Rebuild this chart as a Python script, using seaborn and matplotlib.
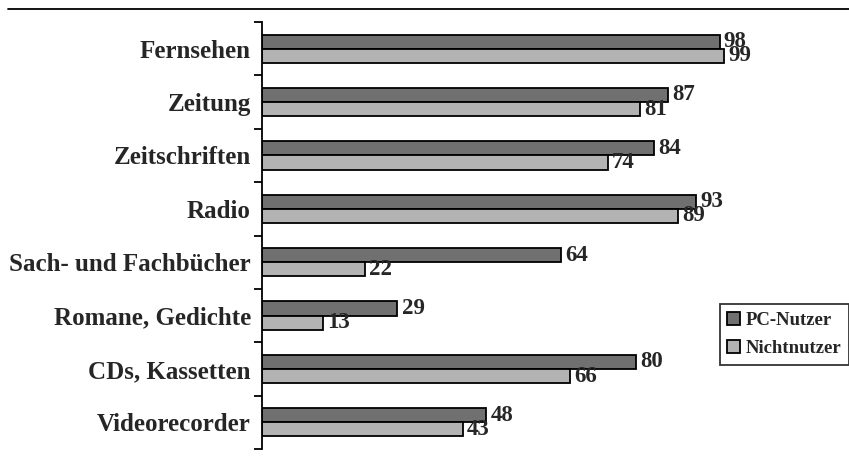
import matplotlib
matplotlib.use("Agg")
import matplotlib.pyplot as plt
import seaborn as sns
import pandas as pd
import numpy as np
from matplotlib.lines import Line2D

categories = ["Fernsehen", "Zeitung", "Zeitschriften", "Radio",
              "Sach- und Fachbücher", "Romane, Gedichte", "CDs, Kassetten", "Videorecorder"]
pc_nutzer = [98, 87, 84, 93, 64, 29, 80, 48]
nichtnutzer = [99, 81, 74, 89, 22, 13, 66, 43]
series = ["PC-Nutzer", "Nichtnutzer"]

df = pd.DataFrame({
    "Kategorie": categories * 2,
    "Wert": pc_nutzer + nichtnutzer,
    "Gruppe": [series[0]] * len(categories) + [series[1]] * len(categories),
})

sns.set_theme(style="white")
plt.rcParams['font.family'] = ['Liberation Serif', 'DejaVu Serif']
plt.rcParams['font.weight'] = 'bold'

fig = plt.figure(figsize=(8.49, 4.58), dpi=100)
ax = fig.add_axes([262 / 849, 1 - 449 / 458, 1 - 262 / 849, (449 - 22) / 458])

palette = {series[0]: "#707070", series[1]: "#b3b3b3"}
sns.barplot(data=df, y="Kategorie", x="Wert", hue="Gruppe", order=categories,
            hue_order=series, palette=palette, orient="h", width=0.53,
            edgecolor="black", linewidth=1.3, saturation=1, ax=ax, legend=True)

ax.set_xlim(0, 125.7)
ax.set_ylim(len(categories) - 0.5, -0.5)
ax.set_xlabel("")
ax.set_ylabel("")
ax.set_xticks([])
for s in ["top", "right", "bottom"]:
    ax.spines[s].set_visible(False)
ax.spines["left"].set_color("black")
ax.spines["left"].set_linewidth(1.3)

ax.set_yticks(range(len(categories)))
ax.set_yticklabels(categories, fontsize=18, fontweight="bold")
ax.tick_params(axis="y", which="major", length=0, pad=8)
ax.set_yticks(np.arange(-0.5, len(categories), 1.0), minor=True)
ax.tick_params(axis="y", which="minor", left=True, length=6, width=1.3, color="black")

for cont in ax.containers:
    ax.bar_label(cont, fmt="%d", padding=3, fontsize=16.5, fontweight="bold")

leg = ax.legend(loc="upper right", bbox_to_anchor=(1.0, 1 - 304 / 458),
                bbox_transform=fig.transFigure, fontsize=13.5, frameon=True,
                fancybox=False, handlelength=0.7, handleheight=0.7,
                handletextpad=0.3, borderpad=0.4, labelspacing=0.6,
                borderaxespad=0)
leg.get_frame().set_edgecolor("black")
leg.get_frame().set_linewidth(1.3)
for t in leg.get_texts():
    t.set_fontweight("bold")

fig.add_artist(Line2D([8 / 849, 1.0], [1 - 9 / 458, 1 - 9 / 458],
                      transform=fig.transFigure, color="black", linewidth=1.3))

fig.savefig("out.png", dpi=100)
